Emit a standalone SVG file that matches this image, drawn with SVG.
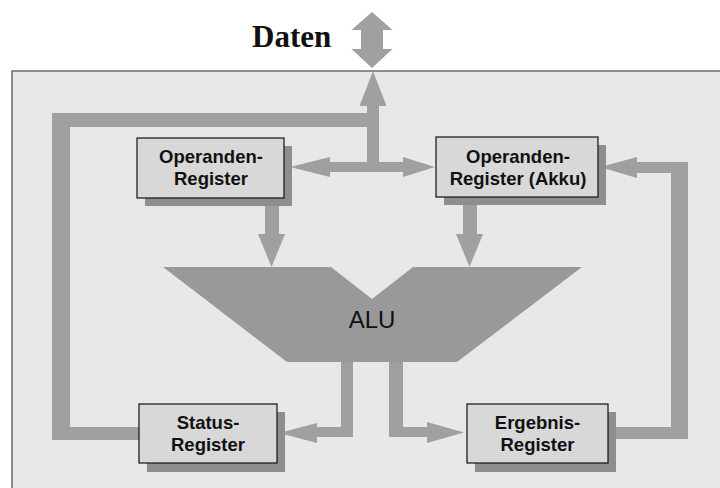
<svg xmlns="http://www.w3.org/2000/svg" width="720" height="488" viewBox="0 0 720 488">
  <style>
    .panel { fill: #e8e8e8; stroke: #6a6a6a; stroke-width: 1.5; }
    .bus { fill: #a0a0a0; }
    .alu { fill: #999999; }
    .shadow { fill: #8e8e8e; }
    .box { fill: #d8d8d8; stroke: #111111; stroke-width: 1.2; }
    .lbl { font-family: "Liberation Sans", Arial, sans-serif; font-weight: bold; font-size: 18.5px; fill: #111111; text-anchor: middle; }
    .alutxt { font-family: "Liberation Sans", Arial, sans-serif; font-size: 24px; fill: #111111; text-anchor: middle; }
    .title { font-family: "Liberation Serif", "Times New Roman", serif; font-weight: bold; font-size: 31px; fill: #111111; }
  </style>

  <rect width="720" height="488" fill="#ffffff"/>

  <!-- CPU panel -->
  <rect class="panel" x="12" y="71" width="720" height="430"/>

  <!-- external data bus label -->
  <text class="title" x="252" y="47">Daten</text>

  <g id="connectors">
    <!-- external bidirectional data arrow -->
    <polygon class="bus" points="372,12 351.5,30 361,30 361,49 351.5,49 372,68 392.5,49 383,49 383,30 392.5,30"/>
    <!-- internal bus: up arrow, loop to status, branch to operand registers -->
    <polygon class="bus" points="373,71 359.5,106 367,106 367,113 52,113 52,440 139,440 139,427 70,427 70,127 367,127 367,162 330,162 330,157 290,167 330,177 330,172 403,172 403,177 435,167 403,157 403,162 379,162 379,106 386.5,106"/>
    <!-- operand register -> ALU -->
    <polygon class="bus" points="265,198 265,234 258,234 271.5,267 285,234 279,234 279,198"/>
    <!-- accumulator -> ALU -->
    <polygon class="bus" points="463,197 463,234 456,234 469.5,267 483,234 477,234 477,197"/>
    <!-- ALU -> status register -->
    <polygon class="bus" points="341,361 341,427 317,427 317,423 279,433 317,443 317,437 353,437 353,361"/>
    <!-- ALU -> result register -->
    <polygon class="bus" points="389,361 389,437 427,437 427,443 464,432.5 427,422 427,427 403,427 403,361"/>
    <!-- result register -> accumulator feedback -->
    <polygon class="bus" points="600,427 600,439 688,439 688,162 637,162 637,157 600,167 637,178 637,173 671,173 671,427"/>
  </g>

  <g id="alu">
    <polygon class="alu" points="163,267 331,267 372,299 413,267 582,267 457,362 287,362"/>
    <text class="alutxt" x="372" y="328">ALU</text>
  </g>

  <g id="operand-register">
    <rect class="shadow" x="145" y="146" width="147" height="60"/>
    <rect class="box" x="137" y="138" width="147" height="60"/>
    <text class="lbl" x="211" y="163">Operanden-</text>
    <text class="lbl" x="211" y="185">Register</text>
  </g>

  <g id="accumulator">
    <rect class="shadow" x="444" y="145" width="162" height="60"/>
    <rect class="box" x="436" y="137" width="162" height="60"/>
    <text class="lbl" x="518" y="162.5">Operanden-</text>
    <text class="lbl" x="518" y="185">Register (Akku)</text>
  </g>

  <g id="status-register">
    <rect class="shadow" x="147" y="412" width="138" height="60"/>
    <rect class="box" x="139" y="404" width="138" height="59"/>
    <text class="lbl" x="208" y="429">Status-</text>
    <text class="lbl" x="208" y="451">Register</text>
  </g>

  <g id="result-register">
    <rect class="shadow" x="475" y="412" width="141" height="60"/>
    <rect class="box" x="467" y="404" width="141" height="59"/>
    <text class="lbl" x="537.5" y="429">Ergebnis-</text>
    <text class="lbl" x="537.5" y="451">Register</text>
  </g>
</svg>
